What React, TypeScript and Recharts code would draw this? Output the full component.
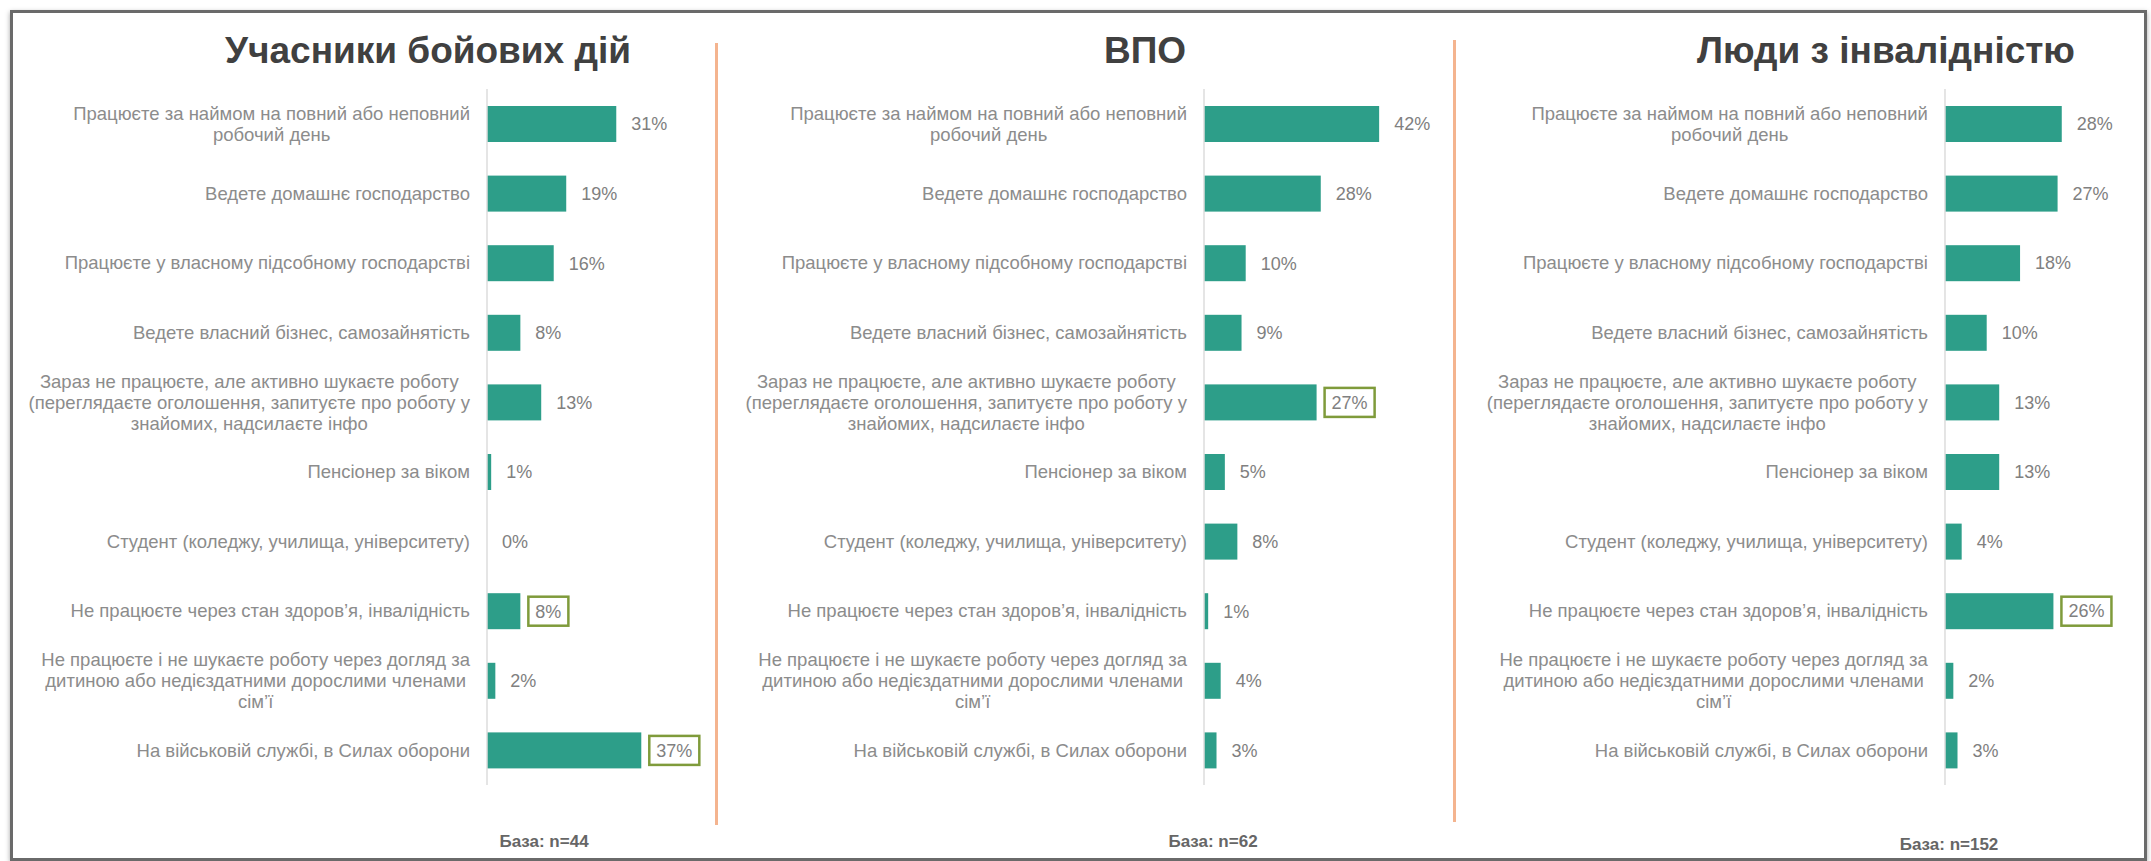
import React from "react";
import { Bar, BarChart, XAxis, YAxis } from "recharts";

// categories, same order in every panel
const categories = [
  "Працюєте за наймом на повний або неповний\nробочий день",
  "Ведете домашнє господарство",
  "Працюєте у власному підсобному господарстві",
  "Ведете власний бізнес, самозайнятість",
  "Зараз не працюєте, але активно шукаєте роботу\n(переглядаєте оголошення, запитуєте про роботу у\nзнайомих, надсилаєте інфо",
  "Пенсіонер за віком",
  "Студент (коледжу, училища, університету)",
  "Не працюєте через стан здоров’я, інвалідність",
  "Не працюєте і не шукаєте роботу через догляд за\nдитиною або недієздатними дорослими членами\nсім’ї",
  "На військовій службі, в Силах оборони",
];

const combatValues = [31, 19, 16, 8, 13, 1, 0, 8, 2, 37];
const idpValues = [42, 28, 10, 9, 27, 5, 8, 1, 4, 3];
const disabilityValues = [28, 27, 18, 10, 13, 13, 4, 26, 2, 3];

// rows whose value label is framed
const combatMarked = [7, 9];
const idpMarked = [4];
const disabilityMarked = [7];

const titles = ["Учасники бойових дій", "ВПО", "Люди з інвалідністю"];
const bases = ["База: n=44", "База: n=62", "База: n=152"];

const FONT = "'Liberation Sans', Arial, sans-serif";
const PX_PER_PCT = 4.17;
const BAR_COLOR = "#2d9e89";
const LABEL_COLOR = "#8c8c8c";
const VALUE_COLOR = "#808080";
const BOX_COLOR = "#7f9b3b";
const LABEL_SIZE = 18.5;
const VALUE_SIZE = 18;

let ctx: CanvasRenderingContext2D | null = null;
function measure(text: string, size: number) {
  if (!ctx) ctx = document.createElement("canvas").getContext("2d");
  if (!ctx) return text.length * size * 0.52;
  ctx.font = `${size}px "Liberation Sans", Arial, sans-serif`;
  return ctx.measureText(text).width;
}

function makeTick(textRight: number) {
  return (props: any) => {
    const { y, payload } = props;
    const lines = String(payload.value).split("\n");
    const lh = 21;
    if (lines.length === 1) {
      return (
        <text x={textRight} y={y} dy="0.35em" textAnchor="end" fontSize={LABEL_SIZE} fill={LABEL_COLOR} fontFamily={FONT}>
          {lines[0]}
        </text>
      );
    }
    const maxW = Math.max(...lines.map((l) => measure(l, LABEL_SIZE)));
    const cx = textRight - maxW / 2;
    const y0 = y - ((lines.length - 1) * lh) / 2;
    return (
      <text textAnchor="middle" fontSize={LABEL_SIZE} fill={LABEL_COLOR} fontFamily={FONT}>
        {lines.map((l, i) => (
          <tspan key={i} x={cx} y={y0 + i * lh} dy="0.35em">
            {l}
          </tspan>
        ))}
      </text>
    );
  };
}

function BarShape(props: any) {
  const { x, y, width, height, payload } = props;
  const label = `${payload.value}%`;
  const tx = x + Math.max(width, 0) + 15;
  const cy = y + height / 2;
  const tw = measure(label, VALUE_SIZE);
  return (
    <g>
      {width > 0 && <rect x={x} y={y} width={width} height={height} fill={BAR_COLOR} />}
      {payload.marked && (
        <rect x={tx - 7} y={cy - 14.5} width={tw + 14} height={29} fill="#fff" stroke={BOX_COLOR} strokeWidth={2.5} />
      )}
      <text x={tx} y={cy} dy="0.35em" fontSize={VALUE_SIZE} fill={VALUE_COLOR} fontFamily={FONT}>
        {label}
      </text>
    </g>
  );
}

type PanelProps = {
  values: number[];
  marked: number[];
  left: number;
  axisX: number;
  domainMax: number;
};

function Panel({ values, marked, left, axisX, domainMax }: PanelProps) {
  const data = categories.map((c, i) => ({ label: c, value: values[i], marked: marked.includes(i) }));
  const yw = axisX - left;
  const plotW = domainMax * PX_PER_PCT;
  const width = yw + plotW + 28;
  return (
    <div style={{ position: "absolute", left, top: 80 }}>
      <BarChart
        width={width}
        height={714}
        data={data}
        layout="vertical"
        margin={{ top: 9, right: 28, bottom: 9, left: 0 }}
        barSize={36}
      >
        <XAxis type="number" hide domain={[0, domainMax]} />
        <YAxis
          type="category"
          dataKey="label"
          width={yw}
          axisLine={{ stroke: "#dcdcdc", strokeWidth: 1.5 }}
          tickLine={false}
          tick={makeTick(yw - 17)}
          interval={0}
        />
        <Bar dataKey="value" shape={<BarShape />} isAnimationActive={false} />
      </BarChart>
    </div>
  );
}

export default function App() {
  const panels = [
    { values: combatValues, marked: combatMarked, left: 16, axisX: 487, domainMax: 50 },
    { values: idpValues, marked: idpMarked, left: 725, axisX: 1204, domainMax: 50 },
    { values: disabilityValues, marked: disabilityMarked, left: 1462, axisX: 1945, domainMax: 40 },
  ];
  const baseX = [544, 1213, 1949];
  const baseY = [842, 842, 845];
  return (
    <div style={{ position: "absolute", left: 0, top: 0, width: 2151, height: 861, background: "#fff", fontFamily: FONT, overflow: "hidden" }}>
      <div
        style={{
          position: "absolute",
          left: 10,
          top: 10,
          width: 2131,
          height: 845,
          border: "3px solid #6a6a6a",
          boxShadow: "0 2px 5px rgba(0,0,0,0.35)",
        }}
      />
      <div style={{ position: "absolute", left: 715, top: 43, width: 3, height: 782, background: "#f4b48f" }} />
      <div style={{ position: "absolute", left: 1453, top: 40, width: 3, height: 782, background: "#f4b48f" }} />
      {panels.map((p, i) => (
        <React.Fragment key={i}>
          <div
            style={{
              position: "absolute",
              left: p.axisX - 59,
              top: 31,
              transform: "translateX(-50%)",
              whiteSpace: "nowrap",
              fontSize: 37,
              lineHeight: "40px",
              fontWeight: 700,
              color: "#404040",
            }}
          >
            {titles[i]}
          </div>
          <Panel {...p} />
          <div
            style={{
              position: "absolute",
              left: baseX[i],
              top: baseY[i] - 10,
              transform: "translateX(-50%)",
              whiteSpace: "nowrap",
              fontSize: 17,
              lineHeight: "20px",
              fontWeight: 700,
              color: "#666666",
            }}
          >
            {bases[i]}
          </div>
        </React.Fragment>
      ))}
    </div>
  );
}
